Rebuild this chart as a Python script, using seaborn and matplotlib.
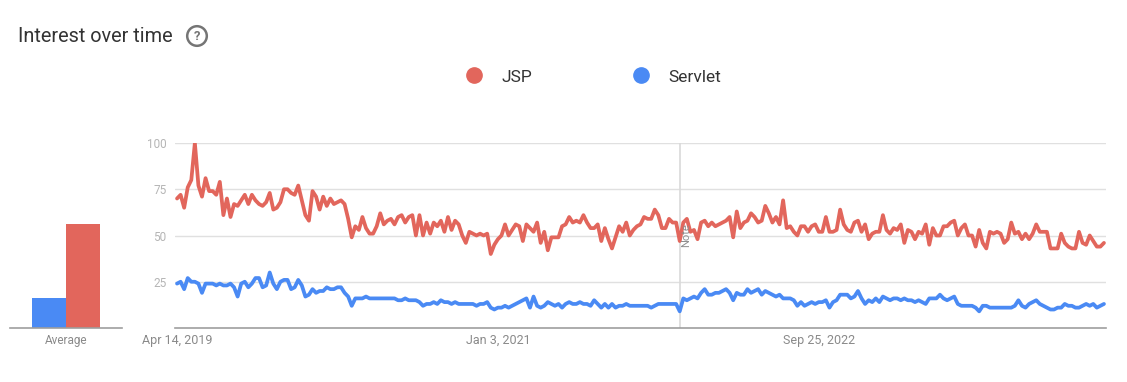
import numpy as np
import pandas as pd
import matplotlib
matplotlib.use("Agg")
import matplotlib.pyplot as plt
import seaborn as sns
from matplotlib.lines import Line2D

# weekly interest, Apr 14 2019 onwards (261 weeks)
jsp = [
    70, 72, 65, 76, 80, 100, 77, 71, 81, 74,
    74, 72, 79, 61, 70, 60, 67, 66, 69, 72,
    67, 72, 69, 67, 66, 68, 73, 64, 65, 68,
    75, 75, 73, 72, 77, 69, 61, 58, 74, 71,
    64, 71, 66, 70, 67, 68, 69, 67, 59, 49,
    55, 53, 60, 54, 51, 51, 55, 62, 56, 58,
    59, 56, 60, 61, 57, 60, 61, 50, 61, 50,
    57, 51, 57, 55, 58, 52, 60, 53, 58, 56,
    50, 46, 52, 51, 50, 51, 50, 51, 40, 45,
    48, 50, 56, 50, 53, 56, 55, 47, 56, 54,
    52, 57, 46, 52, 42, 49, 49, 49, 55, 56,
    60, 57, 58, 57, 61, 57, 54, 54, 56, 47,
    54, 48, 43, 49, 55, 52, 57, 50, 53, 55,
    56, 60, 59, 59, 64, 61, 54, 54, 59, 57,
    57, 47, 57, 59, 52, 53, 48, 57, 58, 55,
    57, 55, 56, 57, 58, 60, 49, 63, 54, 57,
    58, 62, 60, 57, 58, 66, 62, 57, 60, 56,
    69, 54, 55, 52, 50, 55, 55, 52, 55, 56,
    52, 52, 60, 52, 52, 53, 64, 56, 53, 52,
    57, 58, 52, 56, 48, 51, 52, 52, 61, 53,
    51, 54, 53, 56, 46, 53, 52, 48, 52, 51,
    56, 45, 54, 50, 50, 55, 55, 57, 58, 50,
    54, 56, 50, 50, 44, 53, 46, 43, 52, 51,
    52, 51, 46, 48, 57, 51, 52, 48, 51, 48,
    51, 56, 52, 52, 52, 43, 43, 43, 51, 46,
    44, 43, 43, 52, 46, 45, 50, 47, 44, 44,
    46,
]
servlet = [
    24, 25, 21, 27, 25, 25, 24, 19, 24, 24,
    24, 23, 24, 23, 23, 24, 22, 17, 24, 25,
    22, 24, 27, 27, 22, 23, 30, 24, 21, 25,
    26, 26, 21, 22, 26, 23, 17, 18, 21, 19,
    20, 20, 22, 21, 21, 22, 22, 19, 17, 12,
    16, 16, 16, 17, 16, 16, 16, 16, 16, 16,
    16, 16, 15, 15, 16, 15, 15, 15, 14, 12,
    13, 13, 14, 13, 15, 14, 14, 13, 14, 13,
    13, 13, 13, 13, 12, 13, 13, 14, 11, 10,
    11, 11, 12, 11, 12, 13, 14, 15, 16, 11,
    17, 12, 11, 12, 14, 13, 12, 13, 11, 13,
    14, 13, 13, 14, 13, 13, 12, 15, 13, 11,
    13, 11, 13, 11, 12, 12, 13, 12, 12, 12,
    12, 12, 12, 11, 12, 13, 13, 13, 13, 13,
    13, 9, 16, 15, 16, 17, 16, 19, 21, 18,
    18, 19, 19, 20, 21, 19, 15, 19, 18, 18,
    21, 19, 20, 21, 18, 20, 19, 18, 17, 18,
    16, 16, 16, 15, 12, 14, 12, 13, 14, 13,
    14, 14, 15, 11, 14, 15, 18, 18, 18, 16,
    17, 20, 16, 13, 15, 14, 16, 14, 17, 16,
    15, 16, 16, 15, 16, 15, 15, 14, 15, 14,
    13, 16, 16, 16, 18, 16, 15, 16, 17, 13,
    12, 12, 12, 12, 11, 9, 12, 12, 11, 11,
    11, 11, 11, 11, 11, 12, 15, 12, 11, 13,
    14, 15, 13, 12, 11, 10, 10, 11, 11, 13,
    12, 12, 11, 11, 12, 13, 12, 13, 11, 12,
    13,
]
terms = ["JSP", "Servlet"]
avg_terms = ["Servlet", "JSP"]
avg_values = [16, 56]
tick_dates = ["2019-04-14", "2021-01-03", "2022-09-25"]
tick_labels = ["Apr 14, 2019", "Jan 3, 2021", "Sep 25, 2022"]
note_date = "2021-12-26"

colors = {"JSP": "#e2665c", "Servlet": "#4a8af4"}

sns.set_theme(style="white")
plt.rcParams["font.family"] = ["Roboto", "DejaVu Sans"]

dates = pd.date_range("2019-04-14", periods=len(jsp), freq="7D")
df = pd.DataFrame({"date": dates, "JSP": jsp, "Servlet": servlet})
df = df.melt(id_vars="date", var_name="term", value_name="value")

W, H = 1127, 382
fig = plt.figure(figsize=(W / 100, H / 100), dpi=100)


def box(l, t, r, b):
    return [l / W, 1 - b / H, (r - l) / W, (b - t) / H]


ax = fig.add_axes(box(175, 143, 1106, 328))
ax_avg = fig.add_axes(box(10, 143, 122, 328))

# main time series
ax.axvline(pd.Timestamp(note_date), color="#d9d9d9", lw=1.2, zorder=1)
sns.lineplot(data=df, x="date", y="value", hue="term", hue_order=terms,
             palette=colors, linewidth=2.7, legend=False, ax=ax, zorder=3)
ax.set_ylim(0, 100)
ax.set_xlim(dates[0] - pd.Timedelta(days=4), dates[-1] + pd.Timedelta(days=4))
ax.set_yticks([25, 50, 75, 100])
ax.yaxis.grid(True, color="#e0e0e0", lw=1)
ax.set_axisbelow(True)
ax.set_xticks([pd.Timestamp(d) for d in tick_dates])
ax.set_xticklabels(tick_labels)
ax.set_xlabel("")
ax.set_ylabel("")
for s in ["top", "left", "right"]:
    ax.spines[s].set_visible(False)
ax.spines["bottom"].set_color("#9e9e9e")
ax.spines["bottom"].set_linewidth(1.2)
ax.tick_params(axis="y", length=0, pad=6, labelsize=8.5, labelcolor="#b5b5b5")
ax.tick_params(axis="x", length=0, pad=4, labelsize=9, labelcolor="#8a8a8a")
ax.text(pd.Timestamp(note_date) + pd.Timedelta(days=13), 50, "Note",
        rotation=90, ha="center", va="center", fontsize=8, color="#8f8f8f")

# average bars
sns.barplot(x=["Average"] * 2, y=avg_values, hue=avg_terms, hue_order=avg_terms,
            palette=colors, saturation=1, width=0.8, gap=0, linewidth=0,
            legend=False, ax=ax_avg)
ax_avg.set_xlim(-0.659, 0.659)
ax_avg.set_ylim(0, 100)
ax_avg.set_yticks([])
for s in ["top", "left", "right"]:
    ax_avg.spines[s].set_visible(False)
ax_avg.spines["bottom"].set_color("#9e9e9e")
ax_avg.spines["bottom"].set_linewidth(1.2)
ax_avg.tick_params(axis="x", length=0, pad=4, labelsize=8.5, labelcolor="#8a8a8a")

# title and legend
fig.text(18 / W, 1 - 36 / H, "Interest over time", fontsize=14.3, color="#333333",
         ha="left", va="center")
fig.text(197 / W, 1 - 36 / H, "?", fontsize=9.5, color="#757575", ha="center",
         va="center", fontweight="bold",
         bbox=dict(boxstyle="circle,pad=0.25", fc="none", ec="#757575", lw=1.8))

handles = [Line2D([], [], marker="o", ls="", color=colors[t], markersize=11, label=t)
           for t in terms]
fig.legend(handles=handles, loc="center", bbox_to_anchor=(593 / W, 1 - 77 / H),
           ncol=2, frameon=False, fontsize=12.5, handletextpad=1.1,
           columnspacing=5.75, handlelength=1, labelcolor="#333333")

fig.savefig("out.png", dpi=100)
